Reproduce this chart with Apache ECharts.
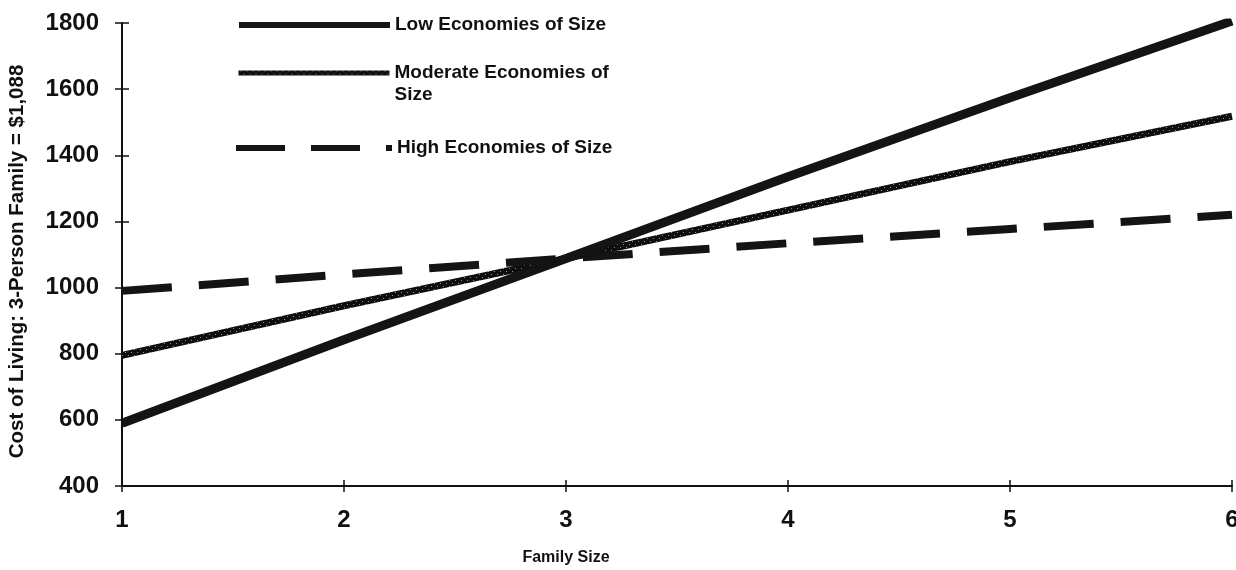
<!DOCTYPE html>
<html>
<head>
<meta charset="utf-8">
<script src="https://cdn.jsdelivr.net/npm/echarts@6/dist/echarts.min.js"></script>
<style>
  html, body { margin: 0; padding: 0; background: #fff; }
  #chart { width: 1236px; height: 570px; }
</style>
</head>
<body>
<div id="chart"></div>
<script>
// Family sizes on the x axis
const familySizes = [1, 2, 3, 4, 5, 6];
// Cost of living by family size (3-person family = $1,088)
const lowEconomies = [590, 842, 1088, 1335, 1574, 1806];
const moderateEconomies = [795, 945, 1088, 1234, 1381, 1518];
const highEconomies = [990, 1040, 1088, 1134, 1177, 1220];
const seriesNames = ['Low Economies of Size', 'Moderate Economies of Size', 'High Economies of Size'];
const yTicks = { min: 400, max: 1800, step: 200 };

const pairs = vals => familySizes.map((x, i) => [x, vals[i]]);

// cross-hatched stroke for the moderate line
function hatchPattern() {
  const c = document.createElement('canvas');
  c.width = 6; c.height = 6;
  const g = c.getContext('2d');
  g.fillStyle = '#0e0e0e';
  g.fillRect(0, 0, 6, 6);
  g.fillStyle = '#8c8c8c';
  g.fillRect(2, 1, 1, 1);
  g.fillRect(5, 4, 1, 1);
  return { image: c, repeat: 'repeat' };
}

const FONT = '"Liberation Sans", Arial, sans-serif';
const INK = '#111';
const legendText = { fontFamily: FONT, fontWeight: 'bold', fontSize: 19, color: INK };

const chart = echarts.init(document.getElementById('chart'), null, { renderer: 'canvas' });

const baseAxisLine = { show: true, lineStyle: { color: INK, width: 2 } };

chart.setOption({
  animation: false,
  backgroundColor: '#fff',
  grid: { left: 122, right: 4, top: 23, bottom: 84, containLabel: false, outerBoundsMode: 'none' },
  legend: [
    {
      data: [seriesNames[0]], left: 236, top: 15.5, padding: 0, orient: 'vertical',
      itemWidth: 151, itemHeight: 19,
      textStyle: legendText,
      lineStyle: { width: 6 },
      itemStyle: { opacity: 0 }
    },
    {
      // leading blank line keeps the sample level with the first text line
      data: [seriesNames[1]], left: 236, top: 40, padding: 0, orient: 'vertical',
      itemWidth: 151, itemHeight: 19,
      formatter: () => '\nModerate Economies of\nSize',
      textStyle: Object.assign({ lineHeight: 22 }, legendText),
      lineStyle: { width: 5 },
      itemStyle: { opacity: 0 }
    },
    {
      data: [seriesNames[2]], left: 233, top: 138.5, padding: 0, orient: 'vertical',
      itemWidth: 156, itemHeight: 19,
      textStyle: legendText,
      lineStyle: { width: 6, type: [49, 26] },
      itemStyle: { opacity: 0 }
    }
  ],
  xAxis: [
    {
      type: 'value', min: 1, max: 6, interval: 1,
      name: 'Family Size', nameLocation: 'middle', nameGap: 64,
      nameTextStyle: { fontFamily: FONT, fontWeight: 'bold', fontSize: 16, color: INK, padding: [0, 222, 0, 0] },
      axisLine: baseAxisLine,
      axisTick: { show: true, length: 6, lineStyle: { color: INK, width: 1.5 } },
      axisLabel: { fontFamily: FONT, fontWeight: 'bold', fontSize: 24, color: INK, margin: 22 },
      splitLine: { show: false }
    },
    {
      type: 'value', min: 1, max: 6, interval: 1, position: 'bottom',
      axisLine: { show: false },
      axisTick: { show: true, inside: true, length: 6, lineStyle: { color: INK, width: 1.5 } },
      axisLabel: { show: false }, splitLine: { show: false }
    }
  ],
  yAxis: [
    {
      type: 'value', min: yTicks.min, max: yTicks.max, interval: yTicks.step,
      name: 'Cost of Living: 3-Person Family = $1,088', nameLocation: 'middle', nameGap: 94,
      nameTextStyle: { fontFamily: FONT, fontWeight: 'bold', fontSize: 20.5, color: INK, padding: [0, 14, 0, 0] },
      axisLine: baseAxisLine,
      axisTick: { show: true, length: 7, lineStyle: { color: INK, width: 1.5 } },
      axisLabel: { fontFamily: FONT, fontWeight: 'bold', fontSize: 24, color: INK, margin: 23, formatter: v => String(v) },
      splitLine: { show: false }
    },
    {
      type: 'value', min: yTicks.min, max: yTicks.max, interval: yTicks.step, position: 'left',
      axisLine: { show: false },
      axisTick: { show: true, inside: true, length: 7, lineStyle: { color: INK, width: 1.5 } },
      axisLabel: { show: false }, splitLine: { show: false }
    }
  ],
  series: [
    {
      name: seriesNames[0], type: 'line', data: pairs(lowEconomies),
      symbol: 'none', z: 3,
      lineStyle: { color: '#141414', width: 9, cap: 'butt' },
      itemStyle: { color: '#141414' }
    },
    {
      name: seriesNames[1], type: 'line', data: pairs(moderateEconomies),
      symbol: 'none', z: 2,
      lineStyle: { color: hatchPattern(), width: 7, cap: 'butt' },
      itemStyle: { color: '#222' }
    },
    {
      name: seriesNames[2], type: 'line', data: pairs(highEconomies),
      symbol: 'none', z: 2,
      lineStyle: { color: '#141414', width: 8, type: [50, 27], cap: 'butt' },
      itemStyle: { color: '#141414' }
    }
  ]
});
</script>
</body>
</html>
